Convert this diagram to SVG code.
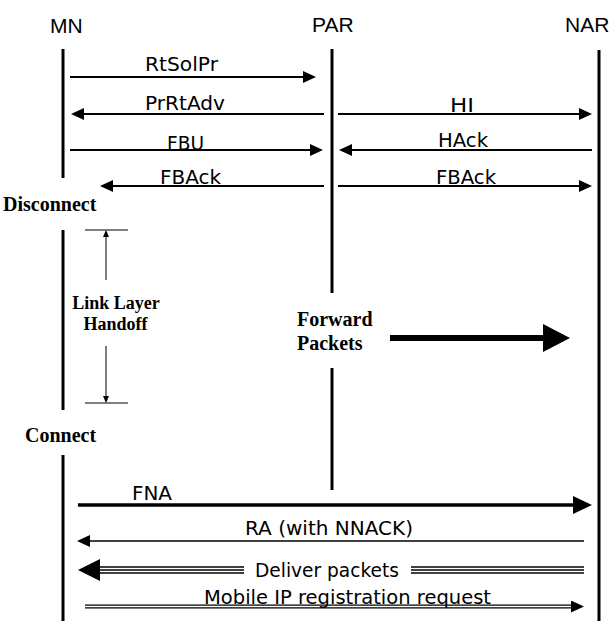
<svg xmlns="http://www.w3.org/2000/svg" width="612" height="623" viewBox="0 0 612 623">
  <style>
    .bg { fill: #ffffff; }
    .life { stroke: #000; stroke-width: 3; fill: none; }
    .msg { stroke: #000; stroke-width: 2; fill: none; }
    .thin { stroke: #000; stroke-width: 1; fill: none; }
    .head { font-family: "Liberation Sans", Arial, sans-serif; font-size: 21px; fill: #000; }
    .lbl { font-family: "DejaVu Sans", "Liberation Sans", sans-serif; font-size: 19px; fill: #000; text-anchor: middle; }
    .note { font-family: "Liberation Serif", "Times New Roman", serif; font-weight: bold; fill: #000; }
  </style>
  <defs>
    <marker id="ah" markerUnits="userSpaceOnUse" viewBox="0 0 13 12" refX="0" refY="6" markerWidth="13" markerHeight="12" orient="auto">
      <path d="M0,0 L13,6 L0,12 z" fill="#000"/>
    </marker>
    <marker id="ahFna" markerUnits="userSpaceOnUse" viewBox="0 0 19 18" refX="0" refY="9" markerWidth="19" markerHeight="18" orient="auto">
      <path d="M0,0 L19,9 L0,18 z" fill="#000"/>
    </marker>
    <marker id="ahFwd" markerUnits="userSpaceOnUse" viewBox="0 0 27 28" refX="0" refY="14" markerWidth="27" markerHeight="28" orient="auto">
      <path d="M0,0 L27,14 L0,28 z" fill="#000"/>
    </marker>
    <marker id="ahDel" markerUnits="userSpaceOnUse" viewBox="0 0 22 22" refX="0" refY="11" markerWidth="22" markerHeight="22" orient="auto">
      <path d="M0,0 L22,11 L0,22 z" fill="#000"/>
    </marker>
    <marker id="ahSm" markerUnits="userSpaceOnUse" viewBox="0 0 7 6" refX="0" refY="3" markerWidth="7" markerHeight="6" orient="auto">
      <path d="M0,0 L7,3 L0,6 z" fill="#000"/>
    </marker>
  </defs>

  <rect class="bg" x="0" y="0" width="612" height="623"/>

  <g id="MN">
    <text class="head" x="50" y="33">MN</text>
    <line class="life" x1="63" y1="49" x2="63" y2="178"/>
    <line class="life" x1="63" y1="230" x2="63" y2="410"/>
    <line class="life" x1="63" y1="455" x2="63" y2="621"/>
  </g>
  <g id="PAR">
    <text class="head" x="312" y="32">PAR</text>
    <line class="life" x1="332" y1="49" x2="332" y2="293"/>
    <line class="life" x1="332" y1="368" x2="332" y2="490"/>
  </g>
  <g id="NAR">
    <text class="head" x="565" y="32">NAR</text>
    <line class="life" x1="599" y1="50" x2="599" y2="621"/>
  </g>

  <g id="notes">
    <text class="note" x="3" y="211" font-size="20">Disconnect</text>
    <text class="note" x="25" y="442" font-size="20">Connect</text>
    <text class="note" x="116" y="309" font-size="18" text-anchor="middle">Link Layer</text>
    <text class="note" x="115.5" y="330" font-size="18" text-anchor="middle">Handoff</text>
    <text class="note" x="297" y="326" font-size="20">Forward</text>
    <text class="note" x="297" y="350" font-size="20">Packets</text>
  </g>

  <g id="connectors">
    <line class="msg" x1="70" y1="77" x2="303" y2="77" marker-end="url(#ah)"/>
    <line class="msg" x1="324" y1="114" x2="84" y2="114" marker-end="url(#ah)"/>
    <line class="msg" x1="338" y1="114" x2="579" y2="114" marker-end="url(#ah)"/>
    <line class="msg" x1="70" y1="150" x2="310" y2="150" marker-end="url(#ah)"/>
    <line class="msg" x1="592" y1="150" x2="352" y2="150" marker-end="url(#ah)"/>
    <line class="msg" x1="324" y1="186" x2="113" y2="186" marker-end="url(#ah)"/>
    <line class="msg" x1="338" y1="186" x2="579" y2="186" marker-end="url(#ah)"/>

    <line class="thin" x1="85" y1="230" x2="128" y2="230"/>
    <line class="thin" x1="85" y1="403" x2="128" y2="403"/>
    <line class="thin" x1="106" y1="280" x2="106" y2="237" marker-end="url(#ahSm)"/>
    <line class="thin" x1="106" y1="346" x2="106" y2="396" marker-end="url(#ahSm)"/>

    <line stroke="#000" stroke-width="6" x1="390" y1="338" x2="543" y2="338" marker-end="url(#ahFwd)"/>

    <line stroke="#000" stroke-width="3.5" x1="78" y1="505" x2="573" y2="505" marker-end="url(#ahFna)"/>
    <line stroke="#000" stroke-width="1.5" x1="584" y1="541" x2="90" y2="541" marker-end="url(#ah)"/>

    <line stroke="#000" stroke-width="7.5" x1="244" y1="570" x2="100" y2="570" marker-end="url(#ahDel)"/>
    <line stroke="#fff" stroke-width="1.5" x1="244" y1="568.5" x2="100" y2="568.5"/>
    <line stroke="#fff" stroke-width="1.5" x1="244" y1="571.5" x2="100" y2="571.5"/>
    <line stroke="#000" stroke-width="7.5" x1="411" y1="570" x2="584" y2="570"/>
    <line stroke="#fff" stroke-width="1.5" x1="411" y1="568.5" x2="584" y2="568.5"/>
    <line stroke="#fff" stroke-width="1.5" x1="411" y1="571.5" x2="584" y2="571.5"/>

    <line stroke="#000" stroke-width="4" x1="85" y1="606.5" x2="571" y2="606.5" marker-end="url(#ah)"/>
    <line stroke="#fff" stroke-width="1.5" x1="85" y1="606.5" x2="571" y2="606.5"/>
  </g>

  <g id="labels">
    <text class="lbl" x="181.5" y="71" textLength="73" lengthAdjust="spacingAndGlyphs">RtSolPr</text>
    <text class="lbl" x="185" y="110" textLength="80" lengthAdjust="spacingAndGlyphs">PrRtAdv</text>
    <text class="lbl" x="462" y="112" textLength="24" lengthAdjust="spacingAndGlyphs">HI</text>
    <text class="lbl" x="185.5" y="150" textLength="37" lengthAdjust="spacingAndGlyphs">FBU</text>
    <text class="lbl" x="463" y="147" textLength="50" lengthAdjust="spacingAndGlyphs">HAck</text>
    <text class="lbl" x="190.5" y="184" textLength="61" lengthAdjust="spacingAndGlyphs">FBAck</text>
    <text class="lbl" x="466" y="184" textLength="60" lengthAdjust="spacingAndGlyphs">FBAck</text>
    <text class="lbl" x="152" y="500" textLength="40" lengthAdjust="spacingAndGlyphs">FNA</text>
    <text class="lbl" x="329" y="535" textLength="168" lengthAdjust="spacingAndGlyphs">RA (with NNACK)</text>
    <text class="lbl" x="327" y="577" textLength="144" lengthAdjust="spacingAndGlyphs">Deliver packets</text>
    <text class="lbl" x="347.5" y="604" textLength="287" lengthAdjust="spacingAndGlyphs">Mobile IP registration request</text>
  </g>
</svg>
